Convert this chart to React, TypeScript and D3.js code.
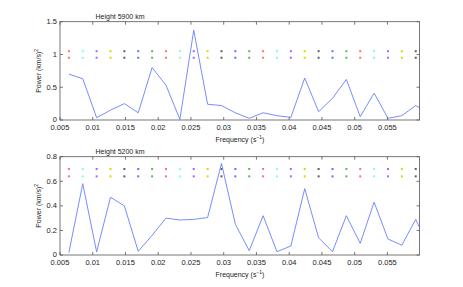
import React from "react";
import * as d3 from "d3";

const W = 463, H = 287;
const K = d3.range(3, 30); // harmonic indices
const DF = 1 / 472;
const freqs = K.map(k => k * DF);

const top5900 = [0.70, 0.63, 0.035, 0.15, 0.25, 0.11, 0.80, 0.53, 0.01, 1.37, 0.24, 0.22, 0.11, 0.026, 0.11, 0.066, 0.04, 0.64, 0.127, 0.33, 0.62, 0.05, 0.41, 0.026, 0.066, 0.22, 0.10];
const bot5200 = [0.02, 0.58, 0.025, 0.47, 0.40, 0.03, 0.16, 0.30, 0.285, 0.29, 0.305, 0.745, 0.25, 0.035, 0.32, 0.027, 0.073, 0.54, 0.14, 0.027, 0.32, 0.095, 0.43, 0.13, 0.08, 0.29, 0.05];

const dotColors = ["#ff7070", "#80ffe0", "#b060ff", "#d8d800", "#606060", "#6070ff", "#50c050"];
const xTicks = [0.005, 0.01, 0.015, 0.02, 0.025, 0.03, 0.035, 0.04, 0.045, 0.05, 0.055];
const topYTicks = [0, 0.5, 1, 1.5];
const botYTicks = [0, 0.2, 0.4, 0.6, 0.8];
const topRows = [1.05, 0.95];
const botRows = [0.70, 0.64];

const FONT = "'Liberation Sans', Arial, sans-serif";

function Panel({ y0, y1, ymax, yTicks, values, rows, title, id }: any) {
  const x = d3.scaleLinear().domain([0.005, 0.0599]).range([60, 419.5]);
  const y = d3.scaleLinear().domain([0, ymax]).range([y1, y0]);
  const line = d3.line<number>().x((_, i) => x(freqs[i])).y(d => y(d));
  const fmt = (v: number) => String(+v.toFixed(3));
  return (
    <g>
      <defs>
        <clipPath id={id}>
          <rect x={60} y={y0} width={359.5} height={y1 - y0} />
        </clipPath>
      </defs>
      {rows.map((r: number, ri: number) =>
        freqs.slice(0, 26).map((f, i) => (
          <rect key={ri + "-" + i} x={x(f) - 1} y={y(r) - 1} width={2} height={2} fill={dotColors[i % 7]} />
        ))
      )}
      <path d={line(values) || ""} fill="none" stroke="#6680ff" strokeWidth={0.9} clipPath={`url(#${id})`} />
      <rect x={60} y={y0} width={359.5} height={y1 - y0} fill="none" stroke="#555" strokeWidth={0.8} />
      {xTicks.map(t => (
        <g key={t}>
          <line x1={x(t)} x2={x(t)} y1={y1} y2={y1 - 3} stroke="#555" strokeWidth={0.8} />
          <line x1={x(t)} x2={x(t)} y1={y0} y2={y0 + 3} stroke="#555" strokeWidth={0.8} />
          <text x={x(t)} y={y1 + 10} textAnchor="middle" fontSize={7.5} fontFamily={FONT} fill="#222">{fmt(t)}</text>
        </g>
      ))}
      {yTicks.map((t: number) => (
        <g key={t}>
          <line x1={60} x2={63} y1={y(t)} y2={y(t)} stroke="#555" strokeWidth={0.8} />
          <line x1={419.5} x2={416.5} y1={y(t)} y2={y(t)} stroke="#555" strokeWidth={0.8} />
          <text x={57} y={y(t) + 2.4} textAnchor="end" fontSize={7.5} fontFamily={FONT} fill="#222">{fmt(t)}</text>
        </g>
      ))}
      <text x={120} y={y0 - 3} textAnchor="middle" fontSize={7} fontFamily={FONT} fill="#222">{title}</text>
      <text x={240} y={y1 + 21.5} textAnchor="middle" fontSize={7} fontFamily={FONT} fill="#222">
        Frequency (s<tspan dy={-3} fontSize={5}>−1</tspan><tspan dy={3}>)</tspan>
      </text>
      <text transform={`translate(41,${(y0 + y1) / 2}) rotate(-90)`} textAnchor="middle" fontSize={7} fontFamily={FONT} fill="#222">
        Power (km/s)<tspan dy={-3} fontSize={5}>2</tspan>
      </text>
    </g>
  );
}

export default function App() {
  return (
    <svg width={W} height={H} style={{ position: "absolute", left: 0, top: 0, background: "#fff" }}>
      <rect width={W} height={H} fill="#fff" />
      <Panel y0={21.7} y1={120} ymax={1.5} yTicks={topYTicks} values={top5900} rows={topRows} title="Height 5900 km" id="c1" />
      <Panel y0={156.7} y1={255} ymax={0.8} yTicks={botYTicks} values={bot5200} rows={botRows} title="Height 5200 km" id="c2" />
    </svg>
  );
}
